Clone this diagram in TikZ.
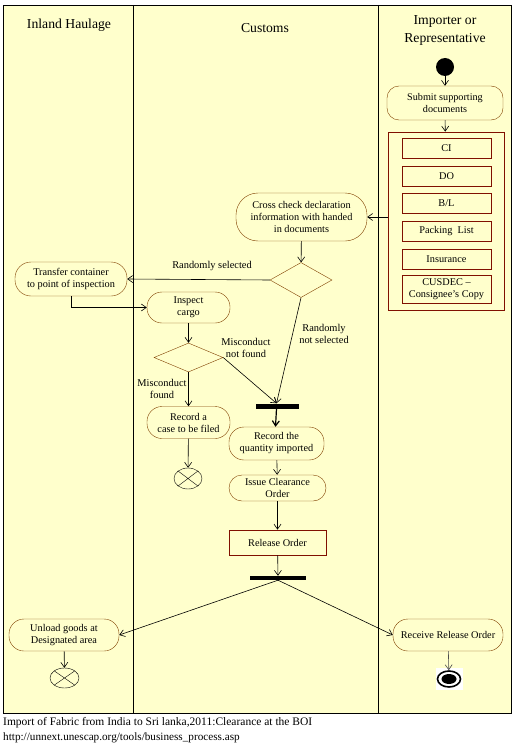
\documentclass[tikz,border=0pt]{standalone}
\usepackage{fontspec}
\setmainfont{Liberation Serif}
\usetikzlibrary{arrows.meta,shapes.geometric}
\definecolor{bgy}{RGB}{255,255,204}
\definecolor{brn}{RGB}{128,64,0}
\definecolor{dred}{RGB}{128,16,0}
\tikzset{
  act/.style={draw=brn,fill=bgy,rounded corners=12pt,align=center,font=\fontsize{10.3}{12}\selectfont,inner sep=0pt},
  doc/.style={draw=dred,fill=bgy,line width=0.7pt,align=center,font=\fontsize{10.3}{12}\selectfont,inner sep=0pt,minimum width=89pt},
  dec/.style={draw=brn,fill=bgy,diamond,inner sep=0pt},
  bar/.style={fill=black,inner sep=0pt},
  flow/.style={-{Straight Barb[length=5pt,width=7pt]},black,line width=0.6pt},
  lbl/.style={font=\fontsize{10.4}{12}\selectfont,align=center,inner sep=0pt},
  hdr/.style={font=\fontsize{13.7}{18}\selectfont,align=center,inner sep=0pt},
  xterm/.style={draw=black,ellipse,inner sep=0pt,fill=bgy},
}
\begin{document}
\begin{tikzpicture}[x=1pt,y=-1pt]
\useasboundingbox (0,0) rectangle (513,749);
\fill[white] (0,0) rectangle (513,749);
% frame and lanes
\filldraw[fill=bgy,draw=black,line width=0.8pt] (3,5) rectangle (511,713);
\draw[black,line width=0.8pt] (133,5) -- (133,713);
\draw[black,line width=0.8pt] (378,5) -- (378,713);
\node[hdr] (h1) at (69,25) {Inland Haulage};
\node[hdr] (h2) at (265,28) {Customs};
\node[hdr] (h3) at (445,30) {Importer or\\Representative};
% importer lane
\node[circle,fill=black,minimum size=18pt,inner sep=0pt] (start) at (445,67) {};
\node[act,minimum width=116pt,minimum height=34pt,font=\fontsize{10.2}{12}\selectfont] (submit) at (445,103) {Submit supporting\\documents};
\node[draw=dred,fill=bgy,line width=0.7pt,minimum width=116pt,minimum height=178pt,inner sep=0pt] (docs) at (446,221) {};
\node[doc,minimum height=20pt] (ci) at (446.5,148) {CI};
\node[doc,minimum height=20pt] (do) at (446.5,176) {DO};
\node[doc,minimum height=20pt] (bl) at (446.5,203) {B/L};
\node[doc,minimum height=20pt] (pl) at (446.5,231) {Packing~ List};
\node[doc,minimum height=20pt] (ins) at (446.5,259) {Insurance};
\node[doc,minimum height=28pt] (cus) at (446.5,289) {CUSDEC –\\Consignee’s Copy};
% customs lane
\node[act,minimum width=131pt,minimum height=48pt,rounded corners=22pt] (cross) at (301.5,217) {Cross check declaration\\information with handed\\in documents};
\node[dec,minimum width=62pt,minimum height=35pt] (d1) at (301,280) {};
\node[act,minimum width=112pt,minimum height=34pt,rounded corners=16pt] (transfer) at (71,279) {Transfer container\\to point of inspection};
\node[act,minimum width=83pt,minimum height=31pt,rounded corners=15pt] (inspect) at (188.5,307.5) {Inspect\\cargo};
\node[dec,minimum width=69pt,minimum height=29pt] (d2) at (188.5,357.5) {};
\node[act,minimum width=83pt,minimum height=32pt,rounded corners=15pt] (case) at (188.5,422.5) {Record a\\case to be filed};
\node[xterm,minimum width=28pt,minimum height=21pt] (x1) at (188,478.5) {};
\draw[black] (x1.north west) -- (x1.south east) (x1.north east) -- (x1.south west);
\node[bar,minimum width=43pt,minimum height=5pt] (bar1) at (277.5,406) {};
\node[act,minimum width=95pt,minimum height=33pt,rounded corners=15pt] (qty) at (276.5,443.5) {Record the\\quantity imported};
\node[act,minimum width=97pt,minimum height=26pt,rounded corners=13pt] (issue) at (277.5,488) {Issue Clearance\\Order};
\node[draw=dred,fill=bgy,line width=0.7pt,minimum width=97pt,minimum height=25pt,inner sep=0pt,font=\fontsize{10.3}{12}\selectfont] (rel) at (277.5,542.5) {Release Order};
\node[bar,minimum width=56pt,minimum height=4pt] (bar2) at (278,578) {};
% bottom
\node[act,minimum width=110pt,minimum height=32pt,rounded corners=15pt] (unload) at (64,635) {Unload goods at\\Designated area};
\node[xterm,minimum width=29pt,minimum height=20pt] (x2) at (64.5,678) {};
\draw[black] (x2.north west) -- (x2.south east) (x2.north east) -- (x2.south west);
\node[act,minimum width=110pt,minimum height=32pt,rounded corners=15pt] (recv) at (448,635) {Receive Release Order};
\node[fill=white,minimum width=27pt,minimum height=22pt,inner sep=0pt] (endbg) at (449,679) {};
\node[draw=black,line width=1.6pt,ellipse,minimum width=23pt,minimum height=16pt,inner sep=0pt,fill=white] (end) at (449,679) {};
\node[fill=black,ellipse,minimum width=15pt,minimum height=10pt,inner sep=0pt] (endin) at (449,679) {};
% connectors
\draw[flow] (start) -- (submit);
\draw[flow] (submit) -- (docs);
\draw[flow] (docs.west |- cross.east) -- (cross.east);
\draw[flow] (cross) -- (d1);
\draw[flow] (d1.west) -- (transfer.east);
\draw[flow] (transfer.south) |- (inspect.west);
\draw[flow] (inspect) -- (d2);
\draw[flow] (d2) -- (case);
\draw[flow] (case) -- (x1);
\draw[flow] (d2.east) -- ([xshift=-1pt]bar1.north);
\draw[flow] (d1.south) -- ([xshift=-1pt]bar1.north);
\draw[flow,line width=1.2pt] ([xshift=-1pt]bar1.south) -- ([xshift=-1pt]qty.north);
\draw[flow] (qty) -- (issue);
\draw[flow] (issue) -- (rel);
\draw[flow] (rel) -- (bar2);
\draw[flow] (bar2.south) -- (unload.east);
\draw[flow] (bar2.south) -- (recv.west);
\draw[flow] (unload) -- (x2);
\draw[flow,gray!60!black] (recv) -- (end);
% labels
\node[lbl] (l1) at (212,266) {Randomly selected};
\node[lbl] (l2) at (324,334) {Randomly\\not selected};
\node[lbl] (l3) at (246,347.5) {Misconduct\\not found};
\node[lbl] (l4) at (162,389) {Misconduct\\found};
% caption
\node[anchor=west,inner sep=0pt,font=\fontsize{11.5}{12}\selectfont] (cap1) at (3,723) {Import of Fabric from India to Sri lanka,2011:Clearance at the BOI};
\node[anchor=west,inner sep=0pt,font=\fontsize{11.2}{12}\selectfont] (cap2) at (3,738) {http://unnext.unescap.org/tools/business\_process.asp};
\end{tikzpicture}
\end{document}
